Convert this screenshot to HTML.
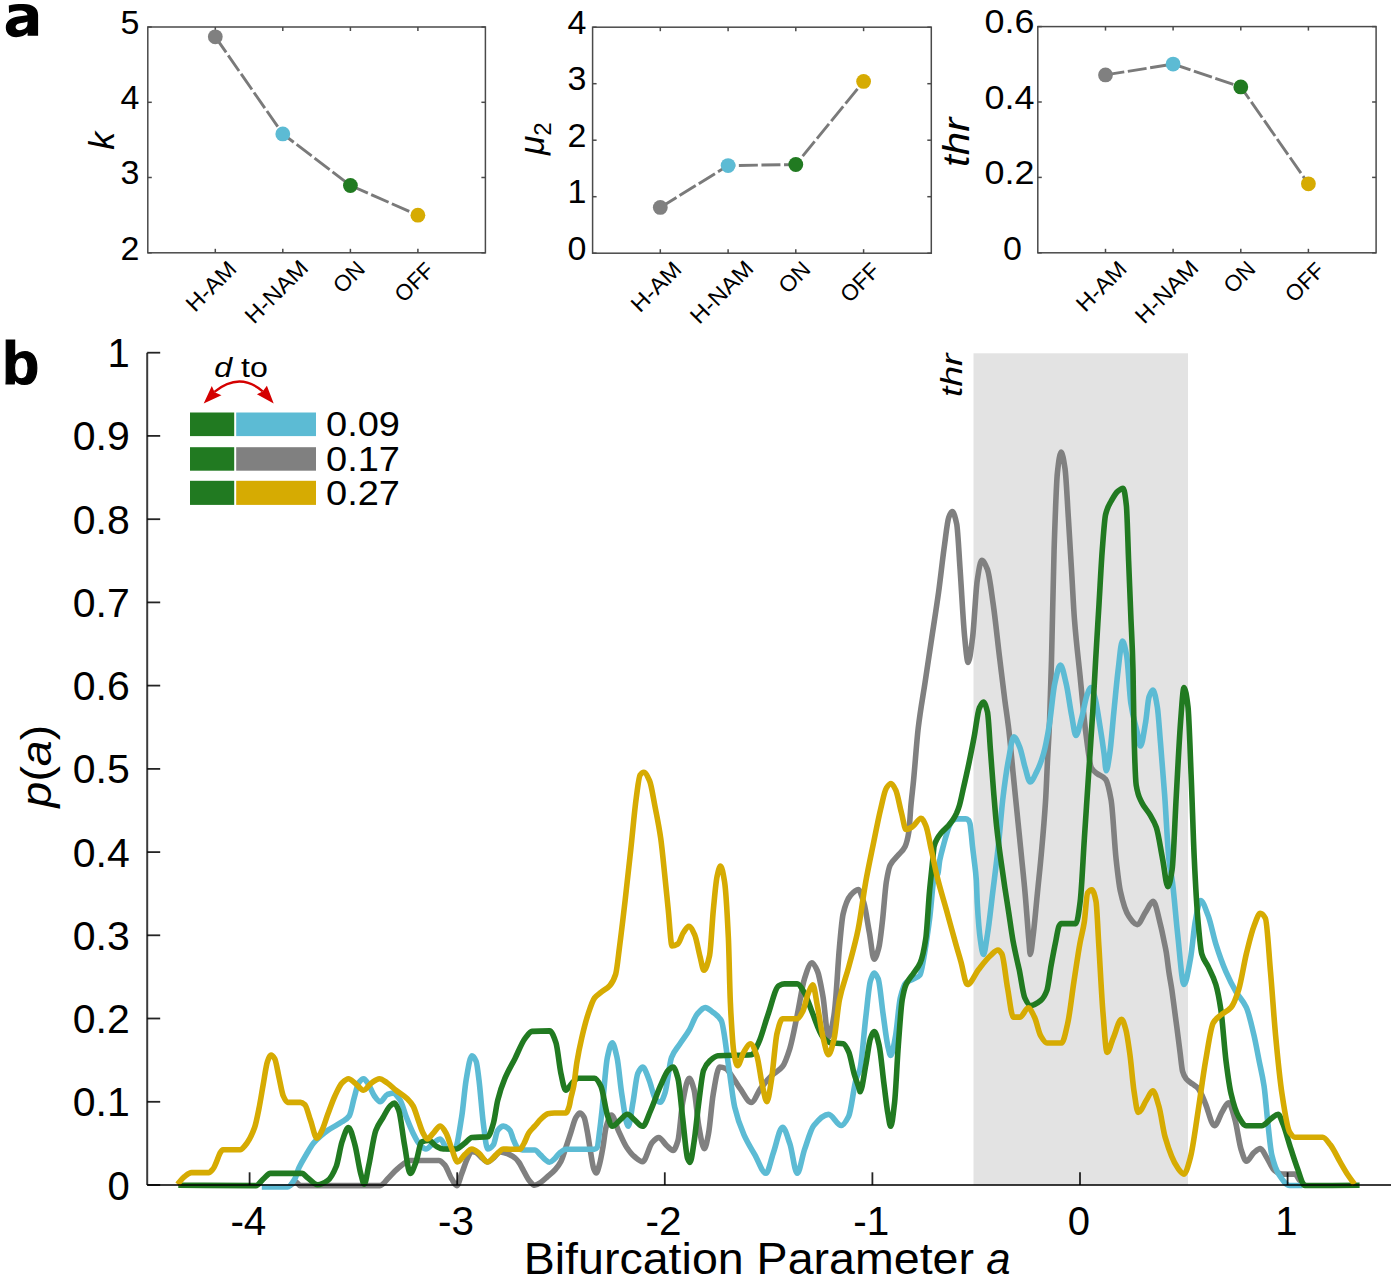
<!DOCTYPE html>
<html><head><meta charset="utf-8"><style>
html,body{margin:0;padding:0;background:#fff;}
svg{display:block;}
text{font-family:"Liberation Sans", sans-serif;fill:#000;}
</style></head><body>
<svg width="1395" height="1278" viewBox="0 0 1395 1278">
<rect width="1395" height="1278" fill="#fff"/>
<rect x="147.8" y="27.0" width="337.6" height="225.8" fill="none" stroke="#4a4a4a" stroke-width="1.5"/>
<line x1="147.8" y1="252.8" x2="151.8" y2="252.8" stroke="#4a4a4a" stroke-width="1.5"/>
<line x1="485.4" y1="252.8" x2="481.4" y2="252.8" stroke="#4a4a4a" stroke-width="1.5"/>
<line x1="147.8" y1="177.5" x2="151.8" y2="177.5" stroke="#4a4a4a" stroke-width="1.5"/>
<line x1="485.4" y1="177.5" x2="481.4" y2="177.5" stroke="#4a4a4a" stroke-width="1.5"/>
<line x1="147.8" y1="102.3" x2="151.8" y2="102.3" stroke="#4a4a4a" stroke-width="1.5"/>
<line x1="485.4" y1="102.3" x2="481.4" y2="102.3" stroke="#4a4a4a" stroke-width="1.5"/>
<line x1="147.8" y1="27.0" x2="151.8" y2="27.0" stroke="#4a4a4a" stroke-width="1.5"/>
<line x1="485.4" y1="27.0" x2="481.4" y2="27.0" stroke="#4a4a4a" stroke-width="1.5"/>
<line x1="215.3" y1="252.8" x2="215.3" y2="248.8" stroke="#4a4a4a" stroke-width="1.5"/>
<line x1="215.3" y1="27.0" x2="215.3" y2="31.0" stroke="#4a4a4a" stroke-width="1.5"/>
<line x1="282.8" y1="252.8" x2="282.8" y2="248.8" stroke="#4a4a4a" stroke-width="1.5"/>
<line x1="282.8" y1="27.0" x2="282.8" y2="31.0" stroke="#4a4a4a" stroke-width="1.5"/>
<line x1="350.4" y1="252.8" x2="350.4" y2="248.8" stroke="#4a4a4a" stroke-width="1.5"/>
<line x1="350.4" y1="27.0" x2="350.4" y2="31.0" stroke="#4a4a4a" stroke-width="1.5"/>
<line x1="417.9" y1="252.8" x2="417.9" y2="248.8" stroke="#4a4a4a" stroke-width="1.5"/>
<line x1="417.9" y1="27.0" x2="417.9" y2="31.0" stroke="#4a4a4a" stroke-width="1.5"/>
<text x="139.5" y="259.5" font-size="34.0" text-anchor="end">2</text>
<text x="139.5" y="184.2" font-size="34.0" text-anchor="end">3</text>
<text x="139.5" y="109.0" font-size="34.0" text-anchor="end">4</text>
<text x="139.5" y="33.7" font-size="34.0" text-anchor="end">5</text>
<polyline points="215.3,36.8 282.8,133.9 350.4,185.5 417.9,215.2" fill="none" stroke="#7a7a7a" stroke-width="2.9" stroke-dasharray="19 3.6"/>
<circle cx="215.3" cy="36.8" r="7.4" fill="#808080"/>
<circle cx="282.8" cy="133.9" r="7.4" fill="#5cbbd4"/>
<circle cx="350.4" cy="185.5" r="7.4" fill="#217a21"/>
<circle cx="417.9" cy="215.2" r="7.4" fill="#d6ab02"/>
<text transform="translate(237.9,270.3) rotate(-45)" font-size="22.5" text-anchor="end" textLength="60.5" lengthAdjust="spacingAndGlyphs">H-AM</text>
<text transform="translate(309.6,269.4) rotate(-45)" font-size="22.5" text-anchor="end" textLength="78.6" lengthAdjust="spacingAndGlyphs">H-NAM</text>
<text transform="translate(366.4,270.3) rotate(-45)" font-size="22.5" text-anchor="end" textLength="34.1" lengthAdjust="spacingAndGlyphs">ON</text>
<text transform="translate(435.5,271.7) rotate(-45)" font-size="22.5" text-anchor="end" textLength="44.8" lengthAdjust="spacingAndGlyphs">OFF</text>
<rect x="592.6" y="27.2" width="338.7" height="226.0" fill="none" stroke="#4a4a4a" stroke-width="1.5"/>
<line x1="592.6" y1="253.2" x2="596.6" y2="253.2" stroke="#4a4a4a" stroke-width="1.5"/>
<line x1="931.3" y1="253.2" x2="927.3" y2="253.2" stroke="#4a4a4a" stroke-width="1.5"/>
<line x1="592.6" y1="196.7" x2="596.6" y2="196.7" stroke="#4a4a4a" stroke-width="1.5"/>
<line x1="931.3" y1="196.7" x2="927.3" y2="196.7" stroke="#4a4a4a" stroke-width="1.5"/>
<line x1="592.6" y1="140.2" x2="596.6" y2="140.2" stroke="#4a4a4a" stroke-width="1.5"/>
<line x1="931.3" y1="140.2" x2="927.3" y2="140.2" stroke="#4a4a4a" stroke-width="1.5"/>
<line x1="592.6" y1="83.7" x2="596.6" y2="83.7" stroke="#4a4a4a" stroke-width="1.5"/>
<line x1="931.3" y1="83.7" x2="927.3" y2="83.7" stroke="#4a4a4a" stroke-width="1.5"/>
<line x1="592.6" y1="27.2" x2="596.6" y2="27.2" stroke="#4a4a4a" stroke-width="1.5"/>
<line x1="931.3" y1="27.2" x2="927.3" y2="27.2" stroke="#4a4a4a" stroke-width="1.5"/>
<line x1="660.3" y1="253.2" x2="660.3" y2="249.2" stroke="#4a4a4a" stroke-width="1.5"/>
<line x1="660.3" y1="27.2" x2="660.3" y2="31.2" stroke="#4a4a4a" stroke-width="1.5"/>
<line x1="728.1" y1="253.2" x2="728.1" y2="249.2" stroke="#4a4a4a" stroke-width="1.5"/>
<line x1="728.1" y1="27.2" x2="728.1" y2="31.2" stroke="#4a4a4a" stroke-width="1.5"/>
<line x1="795.8" y1="253.2" x2="795.8" y2="249.2" stroke="#4a4a4a" stroke-width="1.5"/>
<line x1="795.8" y1="27.2" x2="795.8" y2="31.2" stroke="#4a4a4a" stroke-width="1.5"/>
<line x1="863.6" y1="253.2" x2="863.6" y2="249.2" stroke="#4a4a4a" stroke-width="1.5"/>
<line x1="863.6" y1="27.2" x2="863.6" y2="31.2" stroke="#4a4a4a" stroke-width="1.5"/>
<text x="586.3" y="259.9" font-size="34.0" text-anchor="end">0</text>
<text x="586.3" y="203.4" font-size="34.0" text-anchor="end">1</text>
<text x="586.3" y="146.9" font-size="34.0" text-anchor="end">2</text>
<text x="586.3" y="90.4" font-size="34.0" text-anchor="end">3</text>
<text x="586.3" y="33.9" font-size="34.0" text-anchor="end">4</text>
<polyline points="660.3,207.4 728.1,165.6 795.8,164.5 863.6,81.4" fill="none" stroke="#7a7a7a" stroke-width="2.9" stroke-dasharray="19 3.6"/>
<circle cx="660.3" cy="207.4" r="7.4" fill="#808080"/>
<circle cx="728.1" cy="165.6" r="7.4" fill="#5cbbd4"/>
<circle cx="795.8" cy="164.5" r="7.4" fill="#217a21"/>
<circle cx="863.6" cy="81.4" r="7.4" fill="#d6ab02"/>
<text transform="translate(682.9,270.7) rotate(-45)" font-size="22.5" text-anchor="end" textLength="60.5" lengthAdjust="spacingAndGlyphs">H-AM</text>
<text transform="translate(754.9,269.8) rotate(-45)" font-size="22.5" text-anchor="end" textLength="78.6" lengthAdjust="spacingAndGlyphs">H-NAM</text>
<text transform="translate(811.8,270.7) rotate(-45)" font-size="22.5" text-anchor="end" textLength="34.1" lengthAdjust="spacingAndGlyphs">ON</text>
<text transform="translate(881.2,272.1) rotate(-45)" font-size="22.5" text-anchor="end" textLength="44.8" lengthAdjust="spacingAndGlyphs">OFF</text>
<rect x="1037.8" y="26.6" width="338.3" height="226.2" fill="none" stroke="#4a4a4a" stroke-width="1.5"/>
<line x1="1037.8" y1="252.8" x2="1041.8" y2="252.8" stroke="#4a4a4a" stroke-width="1.5"/>
<line x1="1376.1" y1="252.8" x2="1372.1" y2="252.8" stroke="#4a4a4a" stroke-width="1.5"/>
<line x1="1037.8" y1="177.4" x2="1041.8" y2="177.4" stroke="#4a4a4a" stroke-width="1.5"/>
<line x1="1376.1" y1="177.4" x2="1372.1" y2="177.4" stroke="#4a4a4a" stroke-width="1.5"/>
<line x1="1037.8" y1="102.0" x2="1041.8" y2="102.0" stroke="#4a4a4a" stroke-width="1.5"/>
<line x1="1376.1" y1="102.0" x2="1372.1" y2="102.0" stroke="#4a4a4a" stroke-width="1.5"/>
<line x1="1037.8" y1="26.6" x2="1041.8" y2="26.6" stroke="#4a4a4a" stroke-width="1.5"/>
<line x1="1376.1" y1="26.6" x2="1372.1" y2="26.6" stroke="#4a4a4a" stroke-width="1.5"/>
<line x1="1105.5" y1="252.8" x2="1105.5" y2="248.8" stroke="#4a4a4a" stroke-width="1.5"/>
<line x1="1105.5" y1="26.6" x2="1105.5" y2="30.6" stroke="#4a4a4a" stroke-width="1.5"/>
<line x1="1173.1" y1="252.8" x2="1173.1" y2="248.8" stroke="#4a4a4a" stroke-width="1.5"/>
<line x1="1173.1" y1="26.6" x2="1173.1" y2="30.6" stroke="#4a4a4a" stroke-width="1.5"/>
<line x1="1240.8" y1="252.8" x2="1240.8" y2="248.8" stroke="#4a4a4a" stroke-width="1.5"/>
<line x1="1240.8" y1="26.6" x2="1240.8" y2="30.6" stroke="#4a4a4a" stroke-width="1.5"/>
<line x1="1308.4" y1="252.8" x2="1308.4" y2="248.8" stroke="#4a4a4a" stroke-width="1.5"/>
<line x1="1308.4" y1="26.6" x2="1308.4" y2="30.6" stroke="#4a4a4a" stroke-width="1.5"/>
<text x="1022.0" y="259.5" font-size="34.0" text-anchor="end">0</text>
<text x="1034.5" y="184.1" font-size="34.0" text-anchor="end" textLength="50.0" lengthAdjust="spacingAndGlyphs">0.2</text>
<text x="1034.5" y="108.7" font-size="34.0" text-anchor="end" textLength="50.0" lengthAdjust="spacingAndGlyphs">0.4</text>
<text x="1034.5" y="33.3" font-size="34.0" text-anchor="end" textLength="50.0" lengthAdjust="spacingAndGlyphs">0.6</text>
<polyline points="1105.5,74.9 1173.1,64.1 1240.8,86.9 1308.4,183.8" fill="none" stroke="#7a7a7a" stroke-width="2.9" stroke-dasharray="19 3.6"/>
<circle cx="1105.5" cy="74.9" r="7.4" fill="#808080"/>
<circle cx="1173.1" cy="64.1" r="7.4" fill="#5cbbd4"/>
<circle cx="1240.8" cy="86.9" r="7.4" fill="#217a21"/>
<circle cx="1308.4" cy="183.8" r="7.4" fill="#d6ab02"/>
<text transform="translate(1128.1,270.3) rotate(-45)" font-size="22.5" text-anchor="end" textLength="60.5" lengthAdjust="spacingAndGlyphs">H-AM</text>
<text transform="translate(1199.9,269.4) rotate(-45)" font-size="22.5" text-anchor="end" textLength="78.6" lengthAdjust="spacingAndGlyphs">H-NAM</text>
<text transform="translate(1256.8,270.3) rotate(-45)" font-size="22.5" text-anchor="end" textLength="34.1" lengthAdjust="spacingAndGlyphs">ON</text>
<text transform="translate(1326.0,271.7) rotate(-45)" font-size="22.5" text-anchor="end" textLength="44.8" lengthAdjust="spacingAndGlyphs">OFF</text>
<text transform="translate(114.4,149.7) rotate(-90)" font-size="35.9" font-style="italic">k</text>
<text transform="translate(543.7,155.1) rotate(-90)" font-size="35.3" font-style="italic">μ<tspan font-size="24" font-style="normal" dy="7.6">2</tspan></text>
<text transform="translate(968.7,166.9) rotate(-90)" font-size="36.3" textLength="49.2" lengthAdjust="spacingAndGlyphs" font-style="italic">thr</text>
<path fill="#000" fill-rule="evenodd" d="M8.8,5.4 C13.5,4.4 18.5,3.9 23.5,4.0 C33,4.3 38.1,7.8 38.1,15.0 L38.1,35.8 L27.6,35.8 L27.6,32.6 C25.2,35.6 21.2,37.2 16.2,37.2 C9.8,37.2 5.8,33.4 5.8,27.6 C5.8,21.0 11.0,17.6 18.2,16.6 L27.4,15.2 C27.2,12.2 24.6,10.4 19.6,10.4 C15.2,10.4 11.8,11.4 9.0,13.0 Z M27.5,21.6 C25.0,22.6 21.5,23.0 19.0,23.4 C16.6,23.9 15.6,25.4 15.6,27.0 C15.6,29.0 17.2,30.2 19.6,30.2 C24.4,30.2 27.5,27.4 27.5,23.6 Z"/>
<text x="1.9" y="383.8" font-size="61.1" font-weight="bold" stroke="#000" stroke-width="1.2">b</text>
<rect x="973.5" y="353.3" width="214.5" height="831.7" fill="#e3e3e3"/>
<path d="M290.0,1185.6 C292.0,1184.4 294.0,1182.0 296.0,1182.0 C297.3,1182.0 298.7,1185.6 300.0,1185.6 C326.7,1185.6 353.4,1185.6 380.1,1185.6 C383.0,1185.6 385.8,1180.5 388.7,1177.7 C391.6,1174.9 394.4,1171.3 397.3,1169.0 C401.6,1165.5 405.9,1160.5 410.2,1160.5 C419.8,1160.5 429.3,1160.5 438.9,1160.5 C440.8,1160.5 442.7,1162.8 444.6,1164.8 C447.0,1167.4 449.4,1175.4 451.8,1179.1 C453.5,1181.7 455.1,1185.6 456.8,1185.6 C458.5,1185.6 460.1,1177.6 461.8,1173.4 C463.7,1168.5 465.7,1161.8 467.6,1158.0 C468.9,1155.4 470.3,1151.5 471.6,1151.5 C473.1,1151.5 474.5,1152.0 476.0,1152.5 C477.7,1153.1 479.3,1155.6 481.0,1157.0 C483.2,1158.8 485.4,1162.0 487.6,1162.0 C489.7,1162.0 491.9,1159.2 494.0,1157.5 C496.0,1155.9 498.0,1152.0 500.0,1152.0 C501.7,1152.0 503.5,1152.6 505.2,1153.1 C506.8,1153.5 508.4,1154.2 510.0,1154.9 C511.7,1155.7 513.5,1156.7 515.2,1158.1 C516.5,1159.1 517.7,1160.7 519.0,1162.5 C520.2,1164.2 521.5,1166.9 522.7,1169.1 C525.0,1173.2 527.4,1178.7 529.7,1181.2 C531.4,1183.0 533.0,1185.3 534.7,1185.3 C536.9,1185.3 539.0,1183.4 541.2,1182.0 C543.1,1180.8 545.1,1178.8 547.0,1177.1 C549.7,1174.7 552.5,1172.8 555.2,1169.7 C557.1,1167.6 559.0,1165.1 560.9,1161.5 C562.6,1158.3 564.2,1152.3 565.9,1147.5 C567.5,1142.8 569.2,1137.6 570.8,1132.7 C572.4,1127.8 574.1,1120.7 575.7,1117.9 C577.1,1115.6 578.4,1113.0 579.8,1113.0 C581.2,1113.0 582.6,1114.8 584.0,1117.1 C585.1,1118.9 586.1,1125.6 587.2,1131.1 C588.3,1136.7 589.4,1145.3 590.5,1151.6 C591.6,1157.9 592.7,1166.2 593.8,1168.9 C594.6,1170.9 595.5,1173.0 596.3,1173.0 C597.4,1173.0 598.5,1167.9 599.6,1164.0 C600.7,1160.1 601.8,1153.7 602.9,1147.5 C604.0,1141.5 605.0,1130.7 606.1,1127.0 C607.9,1120.9 609.6,1115.1 611.4,1115.1 C613.8,1115.1 616.2,1126.0 618.6,1131.1 C621.3,1136.7 623.9,1143.2 626.6,1147.2 C629.3,1151.2 631.9,1154.7 634.6,1156.8 C637.3,1158.9 639.9,1161.6 642.6,1161.6 C645.8,1161.6 649.1,1145.8 652.3,1142.4 C654.4,1140.1 656.6,1137.6 658.7,1137.6 C661.4,1137.6 664.0,1143.3 666.7,1145.6 C668.8,1147.4 671.0,1150.4 673.1,1150.4 C674.7,1150.4 676.3,1145.9 677.9,1140.8 C679.5,1135.7 681.1,1110.6 682.7,1102.3 C684.9,1091.1 687.0,1078.2 689.2,1078.2 C690.8,1078.2 692.4,1083.7 694.0,1089.4 C695.6,1095.1 697.2,1117.8 698.8,1126.3 C700.7,1136.2 702.5,1148.8 704.4,1148.8 C705.7,1148.8 707.1,1141.0 708.4,1134.3 C710.0,1126.3 711.6,1103.4 713.2,1094.2 C715.3,1082.0 717.5,1067.0 719.6,1067.0 C721.7,1067.0 723.9,1067.7 726.0,1068.6 C727.1,1069.1 728.1,1070.9 729.2,1072.2 C732.9,1076.8 736.5,1083.7 740.2,1088.7 C743.9,1093.7 747.6,1102.5 751.3,1102.5 C754.3,1102.5 757.4,1092.7 760.4,1088.7 C764.1,1083.8 767.8,1079.4 771.5,1075.8 C775.2,1072.2 778.8,1071.3 782.5,1066.6 C785.0,1063.4 787.4,1056.2 789.9,1048.3 C792.3,1040.5 794.8,1026.7 797.2,1015.2 C799.7,1003.5 802.1,985.8 804.6,978.4 C807.0,971.1 809.5,962.8 811.9,962.8 C813.7,962.8 815.6,966.9 817.4,971.0 C819.3,975.2 821.1,986.2 823.0,996.8 C824.8,1007.2 826.7,1037.2 828.5,1037.2 C830.3,1037.2 832.2,1026.4 834.0,1015.2 C834.5,1012.0 835.1,1005.8 835.6,1000.0 C836.9,986.1 838.1,961.7 839.4,947.8 C840.6,934.3 841.9,919.1 843.1,914.0 C845.6,903.4 848.2,898.1 850.7,895.2 C853.2,892.3 855.7,889.6 858.2,889.6 C860.1,889.6 861.9,896.6 863.8,902.7 C865.7,908.8 867.5,922.6 869.4,932.8 C871.0,941.4 872.5,959.1 874.1,959.1 C875.7,959.1 877.2,953.6 878.8,947.8 C880.1,943.1 881.3,930.6 882.6,919.7 C883.8,909.1 885.1,889.7 886.3,882.1 C887.6,874.2 888.8,867.8 890.1,865.2 C892.6,860.0 895.1,858.9 897.6,855.8 C900.1,852.7 902.6,851.4 905.1,846.4 C906.4,843.8 907.6,839.5 908.9,831.4 C909.5,827.3 910.2,814.0 910.8,807.0 C911.7,796.6 912.7,789.6 913.6,780.0 C915.1,764.2 916.7,741.4 918.2,728.3 C920.5,709.0 922.7,698.0 925.0,682.9 C927.3,667.8 929.5,652.6 931.8,637.5 C934.1,622.4 936.3,608.6 938.6,592.1 C940.5,578.3 942.4,560.3 944.3,546.7 C945.8,536.0 947.3,521.0 948.8,517.2 C949.9,514.3 951.1,511.6 952.2,511.6 C953.7,511.6 955.2,516.9 956.7,524.0 C957.8,529.3 959.0,553.5 960.1,569.4 C961.6,590.9 963.2,622.7 964.7,637.5 C965.8,648.5 967.0,662.5 968.1,662.5 C969.6,662.5 971.1,649.0 972.6,637.5 C974.1,625.8 975.7,590.9 977.2,580.8 C978.7,570.9 980.2,560.4 981.7,560.4 C983.6,560.4 985.5,564.7 987.4,569.4 C989.3,574.1 991.2,590.3 993.1,603.5 C995.4,619.2 997.6,641.6 999.9,660.2 C1001.5,673.6 1003.2,687.3 1004.8,700.0 C1006.2,710.6 1007.5,718.7 1008.9,730.5 C1010.2,742.0 1011.6,757.8 1012.9,771.2 C1014.3,785.0 1015.6,798.4 1017.0,812.0 C1018.4,825.6 1019.7,839.0 1021.1,852.7 C1022.4,866.1 1023.8,878.5 1025.1,893.4 C1026.5,908.7 1027.8,929.3 1029.2,944.3 C1029.5,948.0 1029.9,954.5 1030.2,954.5 C1031.2,954.5 1032.3,942.2 1033.3,934.1 C1034.7,923.4 1036.0,907.1 1037.4,893.4 C1038.7,880.0 1040.1,867.6 1041.4,852.7 C1042.8,837.4 1044.1,823.5 1045.5,801.8 C1046.2,791.2 1046.8,774.3 1047.5,761.1 C1048.2,747.2 1048.9,737.3 1049.6,720.4 C1050.2,705.1 1050.9,682.9 1051.5,660.0 C1052.4,628.7 1053.2,575.8 1054.1,549.5 C1055.2,516.1 1056.3,483.0 1057.4,472.9 C1058.6,461.6 1059.9,452.0 1061.1,452.0 C1062.4,452.0 1063.7,459.8 1065.0,468.5 C1066.1,475.8 1067.2,499.6 1068.3,516.7 C1069.4,533.8 1070.5,553.1 1071.6,571.4 C1072.6,587.5 1073.5,607.5 1074.5,620.0 C1076.4,644.1 1078.2,657.7 1080.1,676.3 C1082.0,695.3 1083.9,718.1 1085.8,732.7 C1087.7,747.0 1089.5,764.7 1091.4,767.9 C1093.3,771.1 1095.1,772.0 1097.0,773.5 C1099.8,775.8 1102.7,775.8 1105.5,779.2 C1107.4,781.4 1109.2,789.3 1111.1,800.0 C1112.8,809.5 1114.4,843.8 1116.1,859.1 C1117.5,871.9 1118.9,884.5 1120.3,890.8 C1123.1,903.6 1126.0,912.0 1128.8,916.2 C1131.6,920.4 1134.4,924.6 1137.2,924.6 C1140.0,924.6 1142.9,916.0 1145.7,911.9 C1148.2,908.3 1150.6,901.4 1153.1,901.4 C1155.6,901.4 1158.2,915.9 1160.7,925.7 C1161.7,929.7 1162.8,935.0 1163.8,940.0 C1164.6,944.0 1165.5,947.5 1166.3,952.5 C1167.1,957.5 1168.0,965.7 1168.8,971.3 C1169.8,978.3 1170.9,983.1 1171.9,990.1 C1172.7,995.7 1173.6,1002.6 1174.4,1008.9 C1175.2,1015.2 1176.1,1021.3 1176.9,1027.7 C1178.0,1035.9 1179.0,1044.5 1180.1,1052.7 C1180.9,1059.1 1181.8,1068.7 1182.6,1071.5 C1183.8,1075.6 1185.1,1077.5 1186.3,1079.0 C1188.4,1081.5 1190.5,1082.5 1192.6,1084.1 C1194.3,1085.4 1195.9,1086.1 1197.6,1087.8 C1199.3,1089.5 1200.9,1093.1 1202.6,1096.6 C1203.6,1098.7 1204.6,1101.6 1205.6,1104.1 C1208.6,1111.4 1211.5,1125.7 1214.5,1125.7 C1217.1,1125.7 1219.6,1115.8 1222.2,1111.7 C1224.3,1108.4 1226.4,1102.8 1228.5,1102.8 C1230.6,1102.8 1232.8,1112.2 1234.9,1119.4 C1237.0,1126.5 1239.1,1143.6 1241.2,1149.9 C1242.9,1155.0 1244.6,1161.3 1246.3,1161.3 C1248.9,1161.3 1251.4,1154.5 1254.0,1152.5 C1256.1,1150.8 1258.2,1148.6 1260.3,1148.6 C1262.4,1148.6 1264.6,1154.3 1266.7,1157.5 C1269.2,1161.3 1271.8,1168.4 1274.3,1170.3 C1276.9,1172.3 1279.4,1174.1 1282.0,1174.1 C1286.2,1174.1 1290.5,1174.1 1294.7,1174.1 C1296.4,1174.1 1298.1,1178.5 1299.8,1180.4 C1301.5,1182.3 1303.2,1183.8 1304.9,1185.5" fill="none" stroke="#808080" stroke-width="5.6" stroke-linejoin="round" stroke-linecap="butt"/>
<path d="M261.8,1187.0 C270.4,1187.0 279.0,1187.0 287.6,1187.0 C290.0,1187.0 292.3,1182.9 294.7,1179.1 C296.1,1176.8 297.6,1170.7 299.0,1167.6 C301.4,1162.4 303.8,1158.7 306.2,1154.7 C308.6,1150.7 311.0,1146.3 313.4,1143.3 C315.8,1140.4 318.1,1138.2 320.5,1136.1 C322.9,1134.0 325.3,1132.1 327.7,1130.4 C332.5,1127.1 337.2,1125.1 342.0,1121.8 C344.4,1120.1 346.8,1119.3 349.2,1116.0 C350.9,1113.7 352.6,1103.3 354.3,1097.4 C355.7,1092.4 357.2,1085.0 358.6,1083.0 C360.3,1080.7 361.9,1078.7 363.6,1078.7 C365.3,1078.7 366.9,1082.1 368.6,1084.5 C370.5,1087.3 372.5,1093.4 374.4,1096.0 C376.3,1098.5 378.2,1101.7 380.1,1101.7 C382.5,1101.7 384.9,1095.4 387.3,1094.5 C389.2,1093.8 391.1,1093.1 393.0,1093.1 C395.4,1093.1 397.8,1096.7 400.2,1100.3 C402.1,1103.1 404.0,1111.1 405.9,1116.0 C408.3,1122.2 410.7,1128.3 413.1,1133.2 C415.0,1137.0 416.9,1141.2 418.8,1143.3 C421.2,1146.0 423.6,1149.0 426.0,1149.0 C428.4,1149.0 430.8,1144.9 433.2,1143.3 C435.6,1141.7 437.9,1139.0 440.3,1139.0 C442.7,1139.0 445.1,1149.0 447.5,1149.0 C449.9,1149.0 452.3,1149.0 454.7,1149.0 C457.1,1149.0 459.4,1130.5 461.8,1116.0 C463.2,1107.2 464.7,1088.3 466.1,1080.2 C468.0,1069.2 470.0,1055.8 471.9,1055.8 C473.3,1055.8 474.8,1058.2 476.2,1061.5 C477.1,1063.7 478.1,1072.8 479.0,1080.2 C480.4,1091.5 481.9,1112.5 483.3,1123.2 C484.7,1134.0 486.2,1149.0 487.6,1149.0 C489.5,1149.0 491.5,1147.1 493.4,1144.7 C494.8,1142.9 496.3,1132.2 497.7,1130.4 C499.6,1128.0 501.5,1126.1 503.4,1126.1 C505.6,1126.1 507.8,1127.9 510.0,1130.3 C511.1,1131.5 512.2,1136.7 513.3,1139.3 C514.7,1142.5 516.0,1146.4 517.4,1147.5 C519.0,1148.9 520.7,1150.0 522.3,1150.0 C526.4,1150.0 530.6,1150.0 534.7,1150.0 C536.6,1150.0 538.5,1153.1 540.4,1154.9 C542.0,1156.4 543.7,1158.6 545.3,1159.8 C546.7,1160.8 548.0,1162.3 549.4,1162.3 C551.1,1162.3 552.7,1160.4 554.4,1159.0 C556.0,1157.6 557.7,1154.6 559.3,1153.3 C561.5,1151.5 563.7,1149.2 565.9,1149.2 C575.5,1149.2 585.0,1149.2 594.6,1149.2 C595.4,1149.2 596.3,1148.5 597.1,1147.5 C597.9,1146.5 598.8,1137.3 599.6,1131.1 C600.4,1125.1 601.2,1117.8 602.0,1110.5 C603.8,1094.1 605.6,1065.6 607.4,1057.4 C609.0,1050.1 610.6,1042.9 612.2,1042.9 C613.8,1042.9 615.4,1050.5 617.0,1057.4 C618.6,1064.3 620.2,1084.4 621.8,1094.2 C623.9,1107.3 626.1,1126.3 628.2,1126.3 C629.8,1126.3 631.4,1111.0 633.0,1102.3 C634.6,1093.6 636.2,1076.9 637.8,1073.4 C639.4,1069.9 641.0,1067.0 642.6,1067.0 C644.8,1067.0 646.9,1074.6 649.1,1079.8 C651.2,1084.9 653.4,1096.8 655.5,1099.1 C657.1,1100.8 658.7,1102.3 660.3,1102.3 C661.9,1102.3 663.5,1097.2 665.1,1092.6 C667.2,1086.4 669.4,1062.8 671.5,1057.4 C674.2,1050.6 676.8,1048.6 679.5,1044.5 C682.7,1039.5 686.0,1035.6 689.2,1030.1 C691.9,1025.5 694.5,1017.2 697.2,1014.1 C699.9,1011.0 702.5,1007.6 705.2,1007.6 C707.9,1007.6 710.5,1010.5 713.2,1012.5 C715.9,1014.5 718.5,1015.9 721.2,1020.5 C723.9,1025.1 726.5,1053.1 729.2,1070.3 C731.0,1082.2 732.9,1099.3 734.7,1107.1 C737.8,1120.2 740.8,1127.7 743.9,1134.7 C747.6,1143.1 751.2,1148.5 754.9,1154.9 C758.6,1161.3 762.3,1173.3 766.0,1173.3 C768.4,1173.3 770.9,1159.8 773.3,1153.0 C776.4,1144.5 779.4,1127.3 782.5,1127.3 C785.0,1127.3 787.4,1136.8 789.9,1143.9 C792.3,1150.9 794.8,1173.3 797.2,1173.3 C799.7,1173.3 802.1,1156.5 804.6,1149.4 C807.7,1140.5 810.7,1129.2 813.8,1125.5 C818.7,1119.5 823.6,1114.4 828.5,1114.4 C832.8,1114.4 837.0,1125.5 841.3,1125.5 C843.8,1125.5 846.2,1121.2 848.7,1116.3 C851.1,1111.4 853.6,1087.8 856.0,1079.5 C857.3,1075.0 858.7,1074.1 860.0,1068.8 C861.9,1061.1 863.9,1033.1 865.8,1017.1 C867.4,1004.1 868.9,985.5 870.5,980.7 C871.8,976.7 873.1,973.0 874.4,973.0 C875.7,973.0 876.9,975.7 878.2,978.8 C879.8,982.7 881.4,1002.1 883.0,1013.3 C884.6,1024.5 886.2,1038.9 887.8,1045.8 C888.8,1050.0 889.7,1055.4 890.7,1055.4 C892.3,1055.4 893.9,1044.8 895.5,1036.3 C897.1,1027.8 898.7,1004.4 900.3,997.9 C902.2,990.2 904.1,984.2 906.0,982.6 C908.6,980.4 911.1,980.2 913.7,978.8 C915.8,977.7 917.9,977.4 920.0,975.0 C921.3,973.5 922.6,964.2 923.9,957.2 C925.8,947.2 927.6,933.5 929.5,919.7 C931.4,905.7 933.3,872.7 935.2,872.7 C936.0,872.7 936.8,874.5 937.6,874.5 C938.3,874.5 939.0,864.0 939.7,860.4 C940.9,854.4 942.0,850.7 943.2,846.3 C944.2,842.6 945.1,839.0 946.1,835.8 C947.3,831.9 948.4,827.4 949.6,825.2 C950.8,823.0 951.9,821.0 953.1,820.3 C954.3,819.6 955.4,818.9 956.6,818.9 C959.7,818.9 962.7,818.9 965.8,818.9 C966.7,818.9 967.7,819.5 968.6,820.3 C969.1,820.7 969.5,822.0 970.0,823.8 C970.4,825.2 970.7,829.1 971.1,832.3 C971.6,836.3 972.0,842.1 972.5,846.3 C973.1,851.5 973.6,855.4 974.2,860.4 C974.9,866.5 975.6,870.1 976.3,880.0 C976.6,884.7 977.0,898.0 977.3,903.6 C978.3,920.8 979.4,933.2 980.4,940.2 C981.4,947.0 982.4,954.5 983.4,954.5 C984.8,954.5 986.1,942.4 987.5,934.1 C989.2,923.8 990.9,907.3 992.6,893.4 C994.6,876.8 996.7,861.7 998.7,842.5 C1000.0,829.9 1001.4,811.4 1002.7,800.0 C1004.6,784.1 1006.4,770.7 1008.3,760.8 C1010.2,750.9 1012.0,736.9 1013.9,736.9 C1015.8,736.9 1017.7,742.3 1019.6,746.8 C1021.5,751.2 1023.3,761.8 1025.2,767.9 C1026.8,773.2 1028.5,782.0 1030.1,782.0 C1032.2,782.0 1034.4,776.2 1036.5,772.1 C1038.8,767.6 1041.2,761.9 1043.5,753.8 C1045.4,747.2 1047.3,737.0 1049.2,725.6 C1051.1,714.4 1052.9,691.9 1054.8,683.4 C1056.7,674.9 1058.5,665.1 1060.4,665.1 C1062.3,665.1 1064.2,675.5 1066.1,683.4 C1068.0,691.1 1069.8,706.2 1071.7,715.8 C1073.1,723.0 1074.5,735.5 1075.9,735.5 C1077.8,735.5 1079.6,725.2 1081.5,718.6 C1083.4,711.9 1085.3,699.6 1087.2,694.6 C1088.4,691.5 1089.5,687.6 1090.7,687.6 C1092.1,687.6 1093.5,692.9 1094.9,697.5 C1096.6,703.0 1098.2,715.4 1099.9,725.6 C1101.3,734.2 1102.7,743.4 1104.1,753.8 C1104.8,759.0 1105.5,770.7 1106.2,770.7 C1107.4,770.7 1108.5,761.3 1109.7,753.8 C1111.1,744.8 1112.5,725.4 1113.9,711.5 C1115.3,697.3 1116.8,680.7 1118.2,669.3 C1119.6,658.1 1121.0,641.1 1122.4,641.1 C1123.8,641.1 1125.2,647.9 1126.6,655.2 C1128.0,662.5 1129.4,693.5 1130.8,702.9 C1132.9,717.3 1135.1,722.9 1137.2,732.3 C1138.3,737.0 1139.3,746.0 1140.4,746.0 C1142.2,746.0 1143.9,731.9 1145.7,721.7 C1146.8,715.3 1147.9,700.2 1149.0,697.0 C1150.3,693.1 1151.7,690.0 1153.0,690.0 C1154.4,690.0 1155.9,698.4 1157.3,706.9 C1158.4,713.3 1159.4,730.2 1160.5,742.8 C1161.9,759.4 1163.3,776.5 1164.7,795.7 C1166.1,814.9 1167.5,846.4 1168.9,859.1 C1170.1,870.0 1171.3,873.3 1172.5,882.7 C1174.2,896.0 1175.9,918.5 1177.6,933.6 C1179.7,952.6 1181.9,984.5 1184.0,984.5 C1186.1,984.5 1188.3,970.4 1190.4,959.1 C1192.1,950.3 1193.7,929.7 1195.4,920.9 C1197.1,912.0 1198.8,900.5 1200.5,900.5 C1203.1,900.5 1205.6,909.2 1208.2,915.8 C1210.7,922.3 1213.3,935.8 1215.8,943.8 C1219.2,954.6 1222.6,964.0 1226.0,971.8 C1229.4,979.6 1232.8,986.3 1236.2,992.1 C1239.6,997.9 1242.9,1000.1 1246.3,1007.4 C1248.9,1013.0 1251.4,1024.5 1254.0,1035.4 C1255.7,1042.6 1257.4,1052.2 1259.1,1060.8 C1260.8,1069.2 1262.4,1075.0 1264.1,1086.3 C1265.4,1095.1 1266.7,1113.0 1268.0,1124.5 C1269.3,1135.7 1270.5,1149.6 1271.8,1155.0 C1274.3,1165.8 1276.9,1171.5 1279.4,1175.3 C1282.8,1180.4 1286.2,1185.5 1289.6,1185.5 C1293.8,1185.5 1298.1,1185.5 1302.3,1185.5" fill="none" stroke="#5cbbd4" stroke-width="5.6" stroke-linejoin="round" stroke-linecap="butt"/>
<path d="M178.3,1185.3 C204.2,1185.4 230.1,1185.6 256.0,1185.6 C258.4,1185.6 260.8,1181.1 263.2,1179.1 C265.6,1177.1 268.0,1173.4 270.4,1173.4 C280.9,1173.4 291.4,1173.4 301.9,1173.4 C303.8,1173.4 305.7,1176.3 307.6,1177.7 C311.0,1180.2 314.3,1184.8 317.7,1184.8 C321.0,1184.8 324.4,1182.8 327.7,1180.5 C330.6,1178.5 333.4,1173.3 336.3,1166.2 C338.2,1161.5 340.1,1147.4 342.0,1141.8 C344.2,1135.5 346.3,1127.5 348.5,1127.5 C350.6,1127.5 352.8,1137.2 354.9,1144.7 C356.8,1151.5 358.8,1166.4 360.7,1173.4 C361.9,1177.8 363.1,1184.1 364.3,1184.1 C365.7,1184.1 367.2,1172.6 368.6,1166.2 C371.0,1155.4 373.4,1136.7 375.8,1130.4 C378.2,1124.1 380.6,1121.6 383.0,1117.5 C385.4,1113.5 387.7,1108.2 390.1,1106.0 C391.5,1104.7 393.0,1103.1 394.4,1103.1 C395.8,1103.1 397.3,1106.7 398.7,1110.3 C400.6,1115.2 402.6,1134.2 404.5,1144.7 C406.4,1155.0 408.3,1173.4 410.2,1173.4 C412.1,1173.4 414.1,1166.8 416.0,1161.9 C417.9,1157.1 419.8,1142.5 421.7,1141.8 C424.1,1140.9 426.5,1140.4 428.9,1140.4 C431.3,1140.4 433.6,1144.8 436.0,1146.1 C438.4,1147.4 440.8,1149.0 443.2,1149.0 C447.5,1149.0 451.8,1149.0 456.1,1149.0 C459.0,1149.0 461.8,1145.4 464.7,1143.3 C467.1,1141.5 469.5,1137.7 471.9,1137.5 C477.1,1137.0 482.4,1137.3 487.6,1136.8 C489.5,1136.6 491.5,1129.6 493.4,1123.2 C494.8,1118.4 496.3,1106.0 497.7,1100.3 C500.1,1090.9 502.4,1084.4 504.8,1078.7 C508.2,1070.5 511.5,1065.4 514.9,1058.7 C518.2,1052.0 521.6,1043.0 524.9,1038.6 C527.3,1035.5 529.7,1031.6 532.1,1031.4 C537.9,1031.0 543.8,1030.9 549.6,1030.9 C551.7,1030.9 553.9,1036.6 556.0,1042.9 C557.6,1047.7 559.3,1066.1 560.9,1073.4 C562.5,1080.6 564.1,1090.2 565.7,1090.2 C567.8,1090.2 570.0,1084.9 572.1,1083.0 C574.2,1081.1 576.4,1078.2 578.5,1078.2 C583.8,1078.2 589.2,1078.2 594.5,1078.2 C596.6,1078.2 598.8,1082.0 600.9,1086.2 C603.1,1090.4 605.2,1108.6 607.4,1115.1 C609.0,1119.9 610.6,1126.3 612.2,1126.3 C614.9,1126.3 617.5,1122.0 620.2,1119.9 C622.6,1118.0 625.0,1114.3 627.4,1114.3 C629.8,1114.3 632.2,1118.0 634.6,1119.9 C637.3,1122.0 639.9,1126.3 642.6,1126.3 C645.3,1126.3 648.0,1116.2 650.7,1110.3 C653.9,1103.2 657.1,1093.3 660.3,1086.2 C663.0,1080.3 665.6,1072.8 668.3,1070.2 C669.9,1068.7 671.5,1067.0 673.1,1067.0 C674.7,1067.0 676.3,1072.4 677.9,1078.2 C679.5,1084.0 681.1,1105.1 682.7,1118.3 C684.3,1131.8 686.0,1154.2 687.6,1158.4 C688.4,1160.5 689.2,1162.4 690.0,1162.4 C691.3,1162.4 692.7,1150.7 694.0,1142.4 C695.6,1132.5 697.2,1114.2 698.8,1102.3 C700.4,1090.4 702.0,1074.2 703.6,1070.2 C705.7,1064.8 707.9,1062.5 710.0,1060.6 C712.7,1058.3 715.3,1056.0 718.0,1055.8 C729.1,1054.9 740.2,1055.6 751.3,1054.7 C753.7,1054.5 756.2,1047.8 758.6,1042.7 C761.7,1036.3 764.7,1023.9 767.8,1015.2 C771.5,1004.8 775.1,987.6 778.8,985.7 C780.7,984.7 782.5,983.9 784.4,983.9 C788.7,983.9 792.9,983.9 797.2,983.9 C799.7,983.9 802.1,989.0 804.6,993.1 C807.0,997.2 809.5,1005.6 811.9,1011.5 C815.6,1020.5 819.3,1033.1 823.0,1037.2 C825.4,1039.9 827.9,1042.3 830.3,1042.7 C834.6,1043.4 838.9,1043.0 843.2,1043.7 C845.0,1044.0 846.9,1047.9 848.7,1051.9 C850.5,1055.9 852.4,1067.7 854.2,1074.0 C856.0,1080.3 857.9,1083.6 859.7,1090.5 C859.8,1090.9 859.9,1091.8 860.0,1091.8 C861.9,1091.8 863.9,1074.9 865.8,1065.0 C867.4,1057.0 868.9,1042.3 870.5,1038.2 C871.8,1034.8 873.1,1031.5 874.4,1031.5 C876.0,1031.5 877.6,1038.9 879.2,1045.8 C880.8,1052.7 882.4,1071.8 884.0,1084.2 C885.3,1094.0 886.5,1105.7 887.8,1112.9 C888.8,1118.4 889.7,1126.3 890.7,1126.3 C892.0,1126.3 893.2,1114.3 894.5,1103.3 C895.8,1092.3 897.0,1062.6 898.3,1045.8 C899.6,1028.6 900.9,1007.6 902.2,999.8 C903.5,992.2 904.7,987.4 906.0,984.5 C908.6,978.6 911.1,976.9 913.7,973.0 C915.9,969.7 918.0,967.9 920.2,962.9 C922.1,958.6 923.9,951.0 925.8,938.4 C927.0,930.1 928.3,905.0 929.5,891.5 C930.6,879.8 931.6,871.0 932.7,860.4 C933.2,855.8 933.6,848.3 934.1,846.3 C935.0,842.3 936.0,841.1 936.9,839.3 C938.3,836.6 939.7,834.7 941.1,833.0 C943.5,830.1 945.8,828.6 948.2,825.9 C949.8,824.0 951.5,822.1 953.1,819.6 C954.3,817.8 955.4,815.8 956.6,813.2 C957.5,811.1 958.5,808.6 959.4,805.5 C960.6,801.5 961.8,795.3 963.0,790.0 C964.7,782.6 966.4,775.2 968.1,767.2 C970.1,757.6 972.2,747.4 974.2,736.6 C975.9,727.6 977.6,712.0 979.3,708.1 C980.7,705.0 982.0,702.0 983.4,702.0 C984.8,702.0 986.1,706.3 987.5,712.2 C988.5,716.5 989.5,737.9 990.5,750.9 C991.5,764.3 992.6,778.9 993.6,791.6 C994.6,803.9 995.6,816.7 996.6,826.2 C998.0,839.2 999.3,848.7 1000.7,858.8 C1002.1,868.9 1003.4,878.2 1004.8,887.3 C1006.2,896.4 1007.5,904.8 1008.9,913.7 C1010.2,922.4 1011.6,932.7 1012.9,940.2 C1014.3,947.8 1015.6,953.8 1017.0,960.0 C1017.7,963.2 1018.4,966.0 1019.1,969.2 C1021.0,978.0 1022.9,993.9 1024.8,997.9 C1026.7,1002.0 1028.7,1005.6 1030.6,1005.6 C1034.0,1005.6 1037.3,1003.2 1040.7,1000.5 C1042.8,998.8 1044.9,995.8 1047.0,990.1 C1048.3,986.5 1049.7,973.5 1051.0,966.0 C1052.7,956.7 1054.3,948.2 1056.0,940.0 C1057.0,935.1 1058.0,927.8 1059.0,926.0 C1059.7,924.8 1060.4,923.6 1061.1,923.6 C1066.0,923.6 1071.0,923.6 1075.9,923.6 C1077.3,923.6 1078.8,912.4 1080.2,901.4 C1081.6,890.6 1083.0,859.1 1084.4,838.0 C1085.8,816.9 1087.2,795.6 1088.6,774.5 C1090.0,753.4 1091.4,734.2 1092.8,711.1 C1093.8,695.2 1094.7,675.8 1095.7,659.1 C1096.8,640.1 1097.9,622.6 1099.0,604.3 C1100.1,586.0 1101.2,563.7 1102.3,549.5 C1103.4,535.3 1104.5,519.0 1105.6,514.5 C1107.4,506.9 1109.3,504.7 1111.1,501.3 C1113.3,497.3 1115.4,493.3 1117.6,491.5 C1119.4,489.9 1121.3,488.2 1123.1,488.2 C1124.2,488.2 1125.3,495.6 1126.4,505.7 C1127.1,512.4 1127.9,542.3 1128.6,560.5 C1129.3,578.7 1130.1,597.0 1130.8,615.2 C1131.5,633.4 1132.3,642.4 1133.0,670.0 C1133.3,682.5 1133.7,720.1 1134.0,732.3 C1134.7,759.2 1135.5,780.5 1136.2,785.1 C1138.0,796.2 1139.7,798.3 1141.5,802.0 C1144.3,807.9 1147.1,809.9 1149.9,814.7 C1152.0,818.4 1154.2,821.3 1156.3,827.4 C1158.4,833.4 1160.5,848.4 1162.6,859.1 C1164.4,868.1 1166.1,886.6 1167.9,886.6 C1169.3,886.6 1170.7,878.9 1172.1,869.7 C1173.5,860.5 1174.9,820.1 1176.3,795.7 C1177.7,770.7 1179.2,739.7 1180.6,721.7 C1181.7,707.5 1182.9,687.5 1184.0,687.5 C1185.3,687.5 1186.7,696.0 1188.0,706.9 C1189.0,715.3 1190.1,749.8 1191.1,774.5 C1192.2,800.0 1193.2,837.1 1194.3,859.1 C1195.5,884.5 1196.8,906.8 1198.0,920.9 C1199.3,935.4 1200.5,949.7 1201.8,954.0 C1203.9,961.3 1206.1,962.1 1208.2,966.7 C1210.7,972.1 1213.3,976.2 1215.8,984.5 C1217.5,990.1 1219.2,998.7 1220.9,1010.0 C1222.6,1021.3 1224.3,1047.4 1226.0,1060.8 C1227.7,1074.2 1229.4,1086.7 1231.1,1093.9 C1233.6,1104.6 1236.2,1112.5 1238.7,1116.8 C1241.2,1121.1 1243.8,1125.7 1246.3,1125.7 C1251.4,1125.7 1256.5,1125.7 1261.6,1125.7 C1265.0,1125.7 1268.4,1120.3 1271.8,1118.1 C1273.9,1116.7 1276.0,1114.3 1278.1,1114.3 C1279.8,1114.3 1281.5,1120.4 1283.2,1124.5 C1285.3,1129.7 1287.5,1138.2 1289.6,1144.8 C1292.1,1152.6 1294.7,1161.1 1297.2,1167.7 C1299.8,1174.4 1302.3,1185.5 1304.9,1185.5 C1323.1,1185.5 1341.4,1185.4 1359.6,1185.3" fill="none" stroke="#217a21" stroke-width="5.6" stroke-linejoin="round" stroke-linecap="butt"/>
<path d="M177.5,1184.3 C179.8,1181.8 182.0,1178.5 184.3,1176.8 C186.7,1175.0 189.1,1172.6 191.5,1172.6 C197.2,1172.6 203.0,1172.6 208.7,1172.6 C210.1,1172.6 211.6,1170.6 213.0,1169.0 C216.3,1165.3 219.7,1149.7 223.0,1149.7 C228.8,1149.7 234.5,1149.7 240.3,1149.7 C241.7,1149.7 243.2,1147.7 244.6,1146.1 C247.9,1142.4 251.3,1136.7 254.6,1127.5 C256.0,1123.6 257.5,1115.9 258.9,1108.9 C260.3,1101.9 261.8,1092.4 263.2,1084.5 C264.6,1076.6 266.1,1065.3 267.5,1061.5 C268.7,1058.3 269.9,1055.1 271.1,1055.1 C272.3,1055.1 273.5,1056.8 274.7,1058.7 C276.1,1061.0 277.6,1071.1 279.0,1077.3 C280.4,1083.5 281.9,1092.8 283.3,1096.0 C284.7,1099.2 286.2,1102.4 287.6,1102.4 C291.9,1102.4 296.2,1102.4 300.5,1102.4 C301.9,1102.4 303.4,1103.4 304.8,1104.6 C306.7,1106.2 308.6,1115.1 310.5,1120.3 C312.7,1126.3 314.8,1138.2 317.0,1138.2 C318.7,1138.2 320.3,1133.7 322.0,1130.4 C323.9,1126.6 325.8,1119.7 327.7,1114.6 C330.1,1108.2 332.5,1101.1 334.9,1096.0 C337.3,1090.9 339.6,1085.3 342.0,1083.0 C344.2,1080.9 346.3,1078.7 348.5,1078.7 C350.6,1078.7 352.8,1081.4 354.9,1083.0 C357.8,1085.1 360.6,1090.2 363.5,1090.2 C366.2,1090.2 368.8,1084.8 371.5,1083.0 C374.1,1081.2 376.8,1078.7 379.4,1078.7 C382.0,1078.7 384.7,1081.3 387.3,1083.0 C390.2,1084.9 393.0,1087.9 395.9,1090.2 C399.7,1093.2 403.5,1095.1 407.3,1098.8 C409.2,1100.7 411.2,1102.7 413.1,1106.0 C415.0,1109.3 416.9,1116.7 418.8,1121.8 C420.2,1125.7 421.7,1130.6 423.1,1133.2 C424.5,1135.8 426.0,1139.0 427.4,1139.0 C429.3,1139.0 431.3,1135.1 433.2,1133.2 C435.6,1130.8 437.9,1126.1 440.3,1126.1 C442.2,1126.1 444.2,1129.9 446.1,1133.2 C448.0,1136.4 449.9,1144.3 451.8,1149.0 C453.7,1153.7 455.6,1161.9 457.5,1161.9 C459.9,1161.9 462.3,1156.8 464.7,1154.7 C467.1,1152.6 469.5,1149.0 471.9,1149.0 C474.3,1149.0 476.6,1151.5 479.0,1153.3 C481.9,1155.4 484.7,1161.9 487.6,1161.9 C490.5,1161.9 493.3,1157.0 496.2,1154.7 C498.6,1152.7 501.0,1149.0 503.4,1149.0 C505.6,1149.0 507.8,1149.2 510.0,1149.2 C513.3,1149.2 516.6,1149.2 519.9,1149.2 C521.3,1149.2 522.6,1145.7 524.0,1143.4 C525.6,1140.6 527.3,1135.1 528.9,1132.7 C530.8,1129.8 532.8,1128.4 534.7,1126.2 C536.9,1123.8 539.0,1120.8 541.2,1118.8 C543.4,1116.8 545.6,1114.3 547.8,1113.8 C550.0,1113.3 552.2,1113.0 554.4,1113.0 C558.2,1113.0 562.1,1113.0 565.9,1113.0 C567.0,1113.0 568.1,1109.7 569.2,1106.4 C569.7,1104.8 570.3,1100.7 570.8,1098.2 C571.8,1093.7 572.7,1091.3 573.7,1086.2 C574.8,1080.5 575.8,1068.7 576.9,1062.2 C578.5,1052.4 580.1,1045.0 581.7,1038.1 C583.8,1028.9 586.0,1020.5 588.1,1014.1 C590.2,1007.7 592.4,1000.8 594.5,998.0 C596.6,995.2 598.8,994.2 600.9,992.4 C603.9,989.9 607.0,988.9 610.0,985.4 C611.9,983.2 613.8,980.2 615.7,974.1 C616.9,970.1 618.2,957.2 619.4,947.8 C621.3,933.4 623.2,917.2 625.1,900.8 C627.0,884.7 628.8,867.3 630.7,850.1 C632.6,832.9 634.4,811.0 636.3,797.6 C637.6,788.5 638.8,776.7 640.1,775.0 C641.3,773.3 642.6,772.2 643.8,772.2 C645.7,772.2 647.6,776.4 649.5,780.7 C651.4,784.9 653.2,797.5 655.1,807.0 C657.0,816.7 658.9,825.5 660.8,838.9 C662.0,847.6 663.3,861.0 664.5,872.7 C665.8,884.7 667.0,897.8 668.3,910.2 C669.5,922.2 670.8,945.9 672.0,945.9 C673.9,945.9 675.8,945.1 677.7,944.0 C679.6,942.9 681.4,935.6 683.3,932.8 C685.2,930.0 687.0,926.2 688.9,926.2 C690.8,926.2 692.7,930.5 694.6,934.6 C696.5,938.6 698.3,950.2 700.2,957.2 C701.4,961.8 702.7,970.3 703.9,970.3 C705.8,970.3 707.7,963.9 709.6,955.3 C710.8,949.7 712.1,922.9 713.3,910.2 C714.6,897.2 715.8,882.1 717.1,876.4 C718.2,871.3 719.4,866.1 720.5,866.1 C721.9,866.1 723.2,873.6 724.6,882.1 C725.9,890.0 727.1,911.2 728.4,938.4 C729.0,951.3 729.6,983.5 730.2,998.5 C730.5,1005.2 730.7,1010.7 731.0,1015.2 C731.9,1030.9 732.9,1046.3 733.8,1051.9 C735.0,1059.3 736.3,1065.7 737.5,1065.7 C739.6,1065.7 741.8,1055.3 743.9,1051.9 C746.0,1048.5 748.2,1043.7 750.3,1043.7 C752.5,1043.7 754.6,1049.6 756.8,1055.6 C758.6,1060.7 760.5,1077.1 762.3,1085.0 C763.8,1091.6 765.4,1101.6 766.9,1101.6 C768.4,1101.6 770.0,1088.8 771.5,1079.5 C773.3,1068.4 775.2,1040.9 777.0,1033.5 C778.8,1026.1 780.7,1018.8 782.5,1018.8 C787.4,1018.8 792.3,1018.8 797.2,1018.8 C799.0,1018.8 800.9,1015.0 802.7,1011.5 C804.6,1008.0 806.4,997.5 808.3,993.1 C809.8,989.6 811.3,984.8 812.8,984.8 C814.3,984.8 815.9,998.3 817.4,1006.0 C819.3,1015.4 821.1,1029.6 823.0,1037.2 C824.8,1044.6 826.7,1054.7 828.5,1054.7 C830.3,1054.7 832.2,1046.6 834.0,1039.1 C835.8,1031.8 837.6,1008.9 839.4,1000.0 C842.5,984.6 845.7,978.4 848.8,966.6 C851.9,954.8 855.1,944.4 858.2,929.0 C860.7,916.7 863.2,896.0 865.7,882.1 C868.2,868.2 870.7,856.7 873.2,844.5 C875.7,832.3 878.2,819.1 880.7,808.8 C882.6,801.1 884.4,791.1 886.3,788.2 C887.9,785.8 889.4,783.5 891.0,783.5 C892.6,783.5 894.1,786.9 895.7,790.1 C897.6,794.0 899.5,805.5 901.4,812.6 C903.0,818.5 904.5,829.5 906.1,829.5 C908.3,829.5 910.4,828.0 912.6,826.7 C915.4,825.0 918.3,818.2 921.1,818.2 C922.7,818.2 924.2,822.1 925.8,825.7 C927.7,830.0 929.5,841.8 931.4,850.2 C933.3,858.7 935.2,868.7 937.1,876.5 C940.2,889.3 943.4,899.0 946.5,910.3 C949.6,921.5 952.7,933.2 955.8,944.1 C957.5,950.2 959.3,955.9 961.0,962.0 C963.1,969.4 965.2,984.5 967.3,984.5 C971.1,984.5 975.0,974.0 978.8,969.2 C982.6,964.4 986.5,959.3 990.3,955.8 C992.9,953.5 995.4,950.0 998.0,950.0 C999.3,950.0 1000.5,951.7 1001.8,953.8 C1003.7,957.0 1005.7,977.7 1007.6,988.3 C1009.5,998.7 1011.4,1017.1 1013.3,1017.1 C1015.5,1017.1 1017.8,1017.1 1020.0,1017.1 C1022.8,1017.1 1025.5,1007.8 1028.3,1007.8 C1030.4,1007.8 1032.4,1013.0 1034.5,1017.1 C1036.6,1021.2 1038.6,1032.4 1040.7,1035.8 C1042.8,1039.3 1044.9,1043.0 1047.0,1043.0 C1051.8,1043.0 1056.7,1043.0 1061.5,1043.0 C1063.6,1043.0 1065.6,1032.2 1067.7,1023.3 C1069.8,1014.4 1071.8,995.3 1073.9,981.8 C1076.0,968.3 1078.0,953.7 1080.1,942.4 C1081.5,934.8 1082.9,930.9 1084.3,922.0 C1085.4,915.0 1086.5,894.5 1087.6,892.9 C1089.0,890.9 1090.4,889.7 1091.8,889.7 C1093.2,889.7 1094.6,894.5 1096.0,901.4 C1096.9,906.0 1097.9,930.2 1098.8,945.0 C1100.2,967.2 1101.6,996.1 1103.0,1013.0 C1104.4,1029.5 1105.7,1052.4 1107.1,1052.4 C1109.2,1052.4 1111.2,1042.6 1113.3,1037.8 C1116.1,1031.4 1118.8,1019.2 1121.6,1019.2 C1123.0,1019.2 1124.4,1024.6 1125.8,1029.5 C1127.2,1034.3 1128.5,1044.5 1129.9,1054.4 C1131.3,1064.5 1132.7,1082.8 1134.1,1091.8 C1135.5,1100.6 1136.8,1112.5 1138.2,1112.5 C1141.0,1112.5 1143.7,1104.2 1146.5,1100.0 C1148.6,1096.9 1150.6,1090.7 1152.7,1090.7 C1154.8,1090.7 1156.8,1099.4 1158.9,1106.3 C1161.0,1113.3 1163.1,1130.3 1165.2,1137.4 C1169.3,1151.4 1173.5,1162.1 1177.6,1167.7 C1179.7,1170.6 1181.9,1174.1 1184.0,1174.1 C1186.1,1174.1 1188.3,1165.1 1190.4,1157.5 C1192.9,1148.4 1195.5,1127.8 1198.0,1111.7 C1200.5,1095.6 1203.1,1075.2 1205.6,1060.8 C1208.2,1046.2 1210.7,1027.0 1213.3,1022.7 C1215.8,1018.4 1218.4,1017.2 1220.9,1015.0 C1224.3,1012.1 1227.7,1011.3 1231.1,1007.4 C1233.6,1004.5 1236.2,997.5 1238.7,989.6 C1241.2,981.7 1243.8,964.4 1246.3,954.0 C1248.9,943.5 1251.4,932.6 1254.0,926.0 C1256.1,920.6 1258.2,913.3 1260.3,913.3 C1262.0,913.3 1263.7,915.3 1265.4,918.3 C1267.1,921.3 1268.8,952.4 1270.5,971.8 C1272.2,991.2 1273.9,1017.4 1275.6,1035.4 C1277.7,1058.0 1279.9,1079.9 1282.0,1093.9 C1284.5,1110.5 1287.1,1128.1 1289.6,1132.1 C1291.3,1134.8 1293.0,1137.2 1294.7,1137.2 C1304.0,1137.2 1313.4,1137.2 1322.7,1137.2 C1325.2,1137.2 1327.8,1141.6 1330.3,1144.8 C1333.7,1149.1 1337.1,1156.8 1340.5,1162.6 C1343.0,1166.9 1345.6,1171.5 1348.1,1175.3 C1350.2,1178.5 1352.4,1181.2 1354.5,1184.2" fill="none" stroke="#d6ab02" stroke-width="5.6" stroke-linejoin="round" stroke-linecap="butt"/>
<line x1="147.2" y1="352.8" x2="147.2" y2="1185.0" stroke="#000" stroke-opacity="0.77" stroke-width="2"/>
<line x1="147.2" y1="1185.0" x2="1391" y2="1185.0" stroke="#000" stroke-opacity="0.77" stroke-width="2"/>
<line x1="147.2" y1="1185.0" x2="160.2" y2="1185.0" stroke="#000" stroke-opacity="0.86" stroke-width="1.8"/>
<text x="129.8" y="1199.5" font-size="40.0" text-anchor="end">0</text>
<line x1="147.2" y1="1101.8" x2="160.2" y2="1101.8" stroke="#000" stroke-opacity="0.86" stroke-width="1.8"/>
<text x="129.8" y="1116.3" font-size="40.0" text-anchor="end" textLength="57.0" lengthAdjust="spacingAndGlyphs">0.1</text>
<line x1="147.2" y1="1018.5" x2="160.2" y2="1018.5" stroke="#000" stroke-opacity="0.86" stroke-width="1.8"/>
<text x="129.8" y="1033.0" font-size="40.0" text-anchor="end" textLength="57.0" lengthAdjust="spacingAndGlyphs">0.2</text>
<line x1="147.2" y1="935.3" x2="160.2" y2="935.3" stroke="#000" stroke-opacity="0.86" stroke-width="1.8"/>
<text x="129.8" y="949.8" font-size="40.0" text-anchor="end" textLength="57.0" lengthAdjust="spacingAndGlyphs">0.3</text>
<line x1="147.2" y1="852.1" x2="160.2" y2="852.1" stroke="#000" stroke-opacity="0.86" stroke-width="1.8"/>
<text x="129.8" y="866.6" font-size="40.0" text-anchor="end" textLength="57.0" lengthAdjust="spacingAndGlyphs">0.4</text>
<line x1="147.2" y1="768.9" x2="160.2" y2="768.9" stroke="#000" stroke-opacity="0.86" stroke-width="1.8"/>
<text x="129.8" y="783.4" font-size="40.0" text-anchor="end" textLength="57.0" lengthAdjust="spacingAndGlyphs">0.5</text>
<line x1="147.2" y1="685.6" x2="160.2" y2="685.6" stroke="#000" stroke-opacity="0.86" stroke-width="1.8"/>
<text x="129.8" y="700.1" font-size="40.0" text-anchor="end" textLength="57.0" lengthAdjust="spacingAndGlyphs">0.6</text>
<line x1="147.2" y1="602.4" x2="160.2" y2="602.4" stroke="#000" stroke-opacity="0.86" stroke-width="1.8"/>
<text x="129.8" y="616.9" font-size="40.0" text-anchor="end" textLength="57.0" lengthAdjust="spacingAndGlyphs">0.7</text>
<line x1="147.2" y1="519.2" x2="160.2" y2="519.2" stroke="#000" stroke-opacity="0.86" stroke-width="1.8"/>
<text x="129.8" y="533.7" font-size="40.0" text-anchor="end" textLength="57.0" lengthAdjust="spacingAndGlyphs">0.8</text>
<line x1="147.2" y1="435.9" x2="160.2" y2="435.9" stroke="#000" stroke-opacity="0.86" stroke-width="1.8"/>
<text x="129.8" y="450.4" font-size="40.0" text-anchor="end" textLength="57.0" lengthAdjust="spacingAndGlyphs">0.9</text>
<line x1="147.2" y1="352.7" x2="160.2" y2="352.7" stroke="#000" stroke-opacity="0.86" stroke-width="1.8"/>
<text x="129.8" y="367.2" font-size="40.0" text-anchor="end">1</text>
<line x1="249.6" y1="1185.0" x2="249.6" y2="1172.3" stroke="#000" stroke-opacity="0.86" stroke-width="1.8"/>
<text x="248.4" y="1235.0" font-size="40.0" text-anchor="middle" textLength="36.0" lengthAdjust="spacingAndGlyphs">-4</text>
<line x1="457.2" y1="1185.0" x2="457.2" y2="1172.3" stroke="#000" stroke-opacity="0.86" stroke-width="1.8"/>
<text x="456.0" y="1235.0" font-size="40.0" text-anchor="middle" textLength="36.0" lengthAdjust="spacingAndGlyphs">-3</text>
<line x1="664.8" y1="1185.0" x2="664.8" y2="1172.3" stroke="#000" stroke-opacity="0.86" stroke-width="1.8"/>
<text x="663.6" y="1235.0" font-size="40.0" text-anchor="middle" textLength="36.0" lengthAdjust="spacingAndGlyphs">-2</text>
<line x1="872.4" y1="1185.0" x2="872.4" y2="1172.3" stroke="#000" stroke-opacity="0.86" stroke-width="1.8"/>
<text x="871.2" y="1235.0" font-size="40.0" text-anchor="middle" textLength="36.0" lengthAdjust="spacingAndGlyphs">-1</text>
<line x1="1080.0" y1="1185.0" x2="1080.0" y2="1172.3" stroke="#000" stroke-opacity="0.86" stroke-width="1.8"/>
<text x="1078.8" y="1235.0" font-size="40.0" text-anchor="middle">0</text>
<line x1="1287.6" y1="1185.0" x2="1287.6" y2="1172.3" stroke="#000" stroke-opacity="0.86" stroke-width="1.8"/>
<text x="1286.4" y="1235.0" font-size="40.0" text-anchor="middle">1</text>
<text x="523.7" y="1273.7" font-size="43.7" textLength="450.3" lengthAdjust="spacingAndGlyphs">Bifurcation Parameter</text>
<text x="986.3" y="1273.7" font-size="43.7" font-style="italic">a</text>
<text transform="translate(50.8,807.4) rotate(-90)" font-size="43.4" textLength="82.5" lengthAdjust="spacingAndGlyphs"><tspan font-style="italic">p</tspan>(<tspan font-style="italic">a</tspan>)</text>
<text transform="translate(961.5,396.9) rotate(-90)" font-size="29.8" textLength="43.4" lengthAdjust="spacingAndGlyphs" font-style="italic">thr</text>
<rect x="190" y="412.5" width="44.2" height="23.6" fill="#217a21"/>
<rect x="236.2" y="412.5" width="79.8" height="23.6" fill="#5cbbd4"/>
<text x="326.0" y="436.1" font-size="34.5" textLength="74.0" lengthAdjust="spacingAndGlyphs">0.09</text>
<rect x="190" y="447.2" width="44.2" height="23.5" fill="#217a21"/>
<rect x="236.2" y="447.2" width="79.8" height="23.5" fill="#808080"/>
<text x="326.0" y="470.7" font-size="34.5" textLength="74.0" lengthAdjust="spacingAndGlyphs">0.17</text>
<rect x="190" y="480.8" width="44.2" height="24.1" fill="#217a21"/>
<rect x="236.2" y="480.8" width="79.8" height="24.1" fill="#d6ab02"/>
<text x="326.0" y="504.9" font-size="34.5" textLength="74.0" lengthAdjust="spacingAndGlyphs">0.27</text>
<text x="214.2" y="377.3" font-size="27.0" textLength="53.7" lengthAdjust="spacingAndGlyphs"><tspan font-style="italic">d</tspan> to</text>
<path d="M214.4,391.9 Q239.5,371.5 262.7,391.3" fill="none" stroke="#d40000" stroke-width="2.4"/>
<path d="M203.7,403.5 L211.8,386.1 L214.6,392.2 L221.5,395.2 Z" fill="#d40000"/>
<path d="M273.7,403.5 L266.9,385.8 L262.6,391.6 L256.9,394.2 Z" fill="#d40000"/>
</svg></body></html>
